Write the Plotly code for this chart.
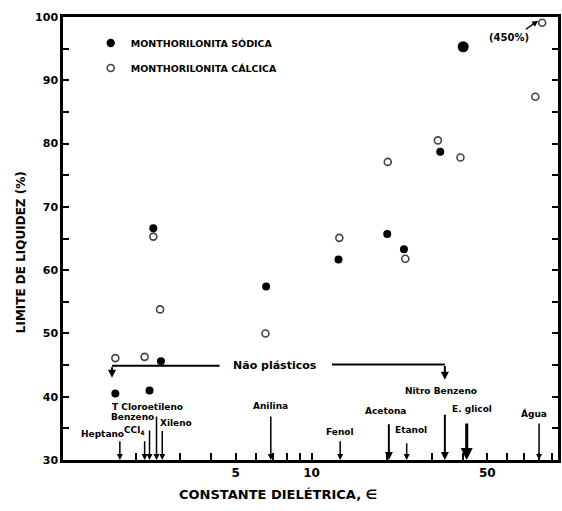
import numpy as np
import plotly.graph_objects as go

# ---- data ----
sodica_x = [1.66, 2.27, 2.35, 2.52, 6.6, 12.8, 20.0, 23.3, 32.5, 40.1]
sodica_y = [40.5, 41.0, 66.6, 45.6, 57.4, 61.7, 65.7, 63.3, 78.7, 95.3]
sodica_size = [8, 8, 8, 8, 8, 8, 8, 8, 8, 11]

calcica_x = [1.66, 2.17, 2.35, 2.5, 6.56, 12.9, 20.1, 23.6, 31.8, 39.1, 77.6, 82.6]
calcica_y = [46.1, 46.3, 65.3, 53.8, 50.0, 65.1, 77.1, 61.8, 80.5, 77.8, 87.4, 99.1]

solvents = ["Heptano", "CCl", "Benzeno", "T Cloroetileno", "Xileno", "Anilina",
            "Fenol", "Acetona", "Etanol", "Nitro Benzeno", "E. glicol", "Água"]
solvent_eps = [1.73, 2.17, 2.27, 2.42, 2.55, 6.89, 13.0, 20.3, 23.9, 33.9, 41.4, 80.3]
arrow_top = [33.2, 33.2, 34.9, 37.1, 34.8, 37.1, 33.2, 35.9, 32.9, 37.4, 36.0, 36.0]
arrow_w = [1.5, 1.5, 1.5, 1.5, 1.5, 1.5, 1.5, 2, 1.5, 2, 3, 1.5]
label_x = [1.48, 1.98, 1.95, 2.23, 2.9, 6.89, 13.0, 19.6, 24.8, 32.7, 43.6, 76.7]
label_y = [34.1, 34.7, 36.8, 38.4, 35.9, 38.5, 34.4, 37.8, 34.8, 40.9, 38.1, 37.3]

y_ticks = [30, 40, 50, 60, 70, 80, 90, 100]
x_ticks = [2, 3, 4, 5, 6, 7, 8, 9, 10, 20, 30, 40, 50, 60, 70, 80, 90]
x_ticktext = ["", "", "", "5", "", "", "", "", "10", "", "", "", "50", "", "", "", ""]

FONT = "DejaVu Sans"
lg = np.log10

fig = go.Figure()
fig.add_trace(go.Scatter(
    x=sodica_x, y=sodica_y, mode="markers", name="MONTHORILONITA SÓDICA",
    legendgroup="a",
    marker=dict(symbol="circle", size=sodica_size, color="black", opacity=1,
                line=dict(width=0))))
fig.add_trace(go.Scatter(
    x=calcica_x, y=calcica_y, mode="markers", name="MONTHORILONITA CÁLCICA",
    legendgroup="b",
    marker=dict(symbol="circle-open", size=7, color="#444", opacity=1,
                line=dict(width=1.6))))

ann = []
# solvent arrows and labels
for name, e, top, w, lx, ly in zip(solvents, solvent_eps, arrow_top, arrow_w, label_x, label_y):
    ann.append(dict(x=lg(e), y=30, ax=lg(e), ay=top, xref="x", yref="y", axref="x", ayref="y",
                    text="", showarrow=True, arrowhead=2, arrowsize=0.8, arrowwidth=w,
                    arrowcolor="black"))
    txt = "CCl<sub>4</sub>" if name == "CCl" else name
    ann.append(dict(x=lg(lx), y=ly, xref="x", yref="y", text=txt, showarrow=False,
                    font=dict(family=FONT, size=9, color="black", weight="bold")))

# Não plásticos bracket
ann += [
    dict(x=lg(1.61), y=44.9, ax=lg(4.37), ay=44.9, xref="x", yref="y", axref="x", ayref="y",
         text="", showarrow=True, arrowhead=0, arrowwidth=2, arrowcolor="black"),
    dict(x=lg(1.61), y=43.0, ax=lg(1.61), ay=44.9, xref="x", yref="y", axref="x", ayref="y",
         text="", showarrow=True, arrowhead=2, arrowsize=0.8, arrowwidth=2, arrowcolor="black"),
    dict(x=lg(33.9), y=45.1, ax=lg(11.9), ay=45.1, xref="x", yref="y", axref="x", ayref="y",
         text="", showarrow=True, arrowhead=0, arrowwidth=2, arrowcolor="black"),
    dict(x=lg(33.9), y=42.7, ax=lg(33.9), ay=45.1, xref="x", yref="y", axref="x", ayref="y",
         text="", showarrow=True, arrowhead=2, arrowsize=0.8, arrowwidth=2, arrowcolor="black"),
    dict(x=lg(7.14), y=45.0, xref="x", yref="y", text="Não plásticos", showarrow=False,
         font=dict(family=FONT, size=11, color="black", weight="bold")),
    # (450%)
    dict(x=lg(61.2), y=96.7, xref="x", yref="y", text="(450%)", showarrow=False,
         font=dict(family=FONT, size=10, color="black", weight="bold")),
    dict(x=lg(79.6), y=99.4, ax=lg(70.2), ay=97.9, xref="x", yref="y", axref="x", ayref="y",
         text="", showarrow=True, arrowhead=2, arrowsize=0.8, arrowwidth=1.5, arrowcolor="black"),
    # axis titles
    dict(x=0.434, y=-0.079, xref="paper", yref="paper", text="CONSTANTE DIELÉTRICA, ∈",
         showarrow=False, yanchor="middle",
         font=dict(family=FONT, size=13, color="black", weight="bold")),
    dict(x=-0.086, y=0.47, xref="paper", yref="paper", text="LIMITE DE LIQUIDEZ (%)",
         showarrow=False, textangle=-90, xanchor="center", yanchor="middle",
         font=dict(family=FONT, size=12, color="black", weight="bold")),
]

fig.update_layout(
    width=562, height=511,
    margin=dict(l=63, r=1, t=17, b=51),
    paper_bgcolor="white", plot_bgcolor="white",
    showlegend=True,
    legend=dict(x=0.056, y=0.974, xanchor="left", yanchor="top", bgcolor="rgba(0,0,0,0)",
                font=dict(family=FONT, size=9.5, color="black", weight="bold"),
                tracegroupgap=6, traceorder="grouped", itemwidth=30),
    annotations=ann,
    font=dict(family=FONT, color="black"),
)
fig.update_xaxes(
    type="log", range=[0.012, 1.98], showgrid=False, zeroline=False,
    showline=True, linecolor="black", linewidth=2.5, mirror=True,
    tickmode="array", tickvals=x_ticks, ticktext=x_ticktext,
    ticks="inside", ticklen=7, tickwidth=2, tickcolor="black",
    tickfont=dict(family=FONT, size=12, color="black", weight="bold"),
)
fig.update_yaxes(
    range=[30, 100], showgrid=False, zeroline=False,
    showline=True, linecolor="black", linewidth=2.5, mirror="ticks",
    tickmode="array", tickvals=y_ticks,
    ticks="inside", ticklen=6, tickwidth=2, tickcolor="black",
    minor=dict(dtick=5, ticks="inside", ticklen=6, tickwidth=2, tickcolor="black"),
    tickfont=dict(family=FONT, size=11, color="black", weight="bold"),
)

fig.write_html("out.html", config={"displayModeBar": False},
               post_script="document.body.style.margin='0px';")
